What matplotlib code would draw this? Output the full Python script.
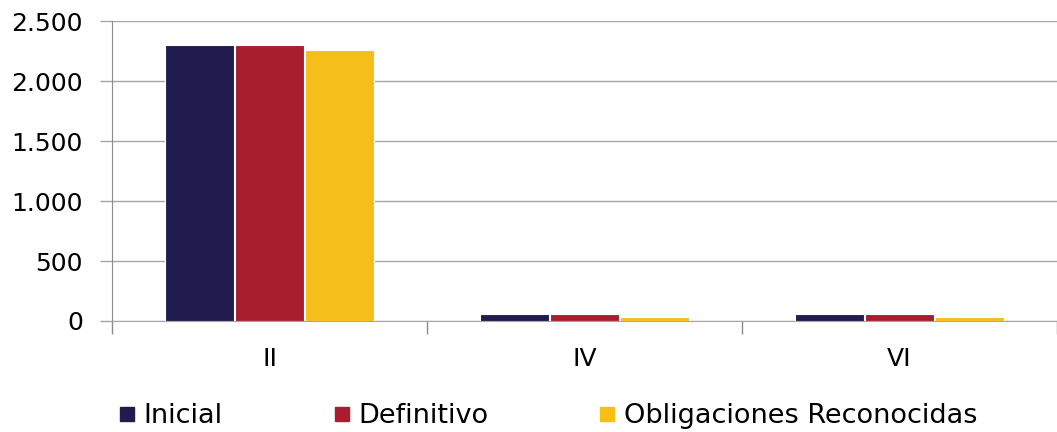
import numpy as np
import matplotlib.pyplot as plt
from matplotlib.ticker import FuncFormatter
from matplotlib.lines import Line2D

plt.rcParams['font.family'] = ['DejaVu Sans']

categories = ['II', 'IV', 'VI']
series_names = ['Inicial', 'Definitivo', 'Obligaciones Reconocidas']
inicial = [2300, 58, 58]
definitivo = [2300, 58, 58]
obligaciones = [2258, 30, 30]
colors = ['#201C4E', '#A91E2E', '#F5BE18']

fig = plt.figure(figsize=(10.57, 4.32), dpi=100)
ax = fig.add_axes([0.106, 0.257, 0.894, 0.694])

x = np.arange(len(categories))
width = 0.219
for i, (vals, name) in enumerate(zip([inicial, definitivo, obligaciones], series_names)):
    ax.bar(x + (i - 1) * 0.222, vals, width, color=colors[i], edgecolor='white',
           linewidth=0.8, label=name, zorder=3)

ax.set_xlim(-0.5, 2.5)
ax.set_ylim(0, 2500)
ax.set_yticks(np.arange(0, 2501, 500))
ax.yaxis.set_major_formatter(FuncFormatter(lambda v, p: f'{int(v):,}'.replace(',', '.')))
ax.grid(axis='y', color='#A6A6A6', linewidth=1, zorder=0)

ax.set_xticks(x)
ax.set_xticklabels(categories)
ax.set_xticks([-0.5, 0.5, 1.5, 2.5], minor=True)
ax.tick_params(axis='x', which='major', length=0, pad=19, labelsize=18)
ax.tick_params(axis='x', which='minor', length=9, color='#8C8C8C', width=1)
ax.tick_params(axis='y', length=9, color='#A6A6A6', width=1, labelsize=18, pad=12)

for s in ['top', 'right']:
    ax.spines[s].set_visible(False)
ax.spines['left'].set_color('#8C8C8C')
ax.spines['bottom'].set_color('#A6A6A6')

handles = [Line2D([0], [0], marker='s', linestyle='', markersize=10,
                  markerfacecolor=c, markeredgecolor=c) for c in colors]
fig.legend(handles, series_names, loc='center', bbox_to_anchor=(0.516, 0.037), ncol=3,
           frameon=False, fontsize=19.5, handletextpad=0.1, columnspacing=3.9,
           handlelength=1.0)

fig.savefig('out.png', dpi=100)
